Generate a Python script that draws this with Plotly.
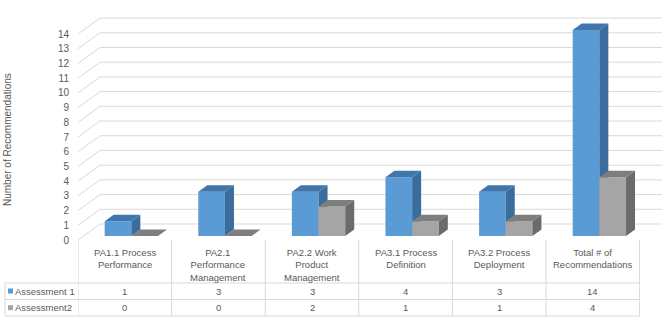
import plotly.graph_objects as go

# ---------------- data ----------------
categories = [
    "PA1.1 Process<br>Performance",
    "PA2.1<br>Performance<br>Management",
    "PA2.2 Work<br>Product<br>Management",
    "PA3.1 Process<br>Definition",
    "PA3.2 Process<br>Deployment",
    "Total # of<br>Recommendations",
]
series_names = ["Assessment 1", "Assessment2"]
assessment1 = [1, 3, 3, 4, 3, 14]
assessment2 = [0, 0, 2, 1, 1, 4]
y_ticks = list(range(0, 15))
y_title = "Number of Recommendations"

# ---------------- layout helpers ----------------
W, H = 665, 324
X0 = 78.0      # px of left edge of category area
COL = 93.6     # px per category
Y0 = 240.0     # px of value 0 (front)
K = 14.71      # px per unit

xmin = -0.5
xmax = -0.5 + (W - X0) / COL
ymax = Y0 / K
ymin = (Y0 - H) / K


def xd(px):
    return (px - X0) / COL - 0.5


def yd(py):
    return (Y0 - py) / K


def xp(px):
    return px / W


def yp(py):
    return 1 - py / H


TXT = "#595959"
GRID = "#d9d9d9"
FONT = "Liberation Sans"
TS = 9.5

fig = go.Figure()

# ---------------- 3D-looking bars ----------------
BASE = yd(236)
BW = 0.285
DX = 9 / COL
DY = 6.5 / K


def faces(vals, off):
    fx, fy, sx, sy, tx, ty = [], [], [], [], [], []
    for c, v in enumerate(vals):
        xl = c + off
        xr = xl + BW
        y0 = BASE
        y1 = BASE + v
        if v > 0:
            fx += [xl, xr, xr, xl, xl, None]
            fy += [y0, y0, y1, y1, y0, None]
            sx += [xr, xr + DX, xr + DX, xr, xr, None]
            sy += [y0, y0 + DY, y1 + DY, y1, y0, None]
        tx += [xl, xl + DX, xr + DX, xr, xl, None]
        ty += [y1, y1 + DY, y1 + DY, y1, y1, None]
    return (fx, fy), (sx, sy), (tx, ty)


series = [
    (assessment1, -0.215, ("#5B9BD5", "#3A6D9E", "#4176AD")),
    (assessment2, 0.07, ("#A5A5A5", "#6B6B6B", "#7E7E7E")),
]
for vals, off, cols in series:
    for (xx, yy), col in zip(faces(vals, off), cols):
        fig.add_trace(go.Scatter(
            x=xx, y=yy, mode="lines", fill="toself", fillcolor=col,
            line=dict(width=0, color=col), hoverinfo="skip", showlegend=False,
        ))

shapes = []
# ---------------- gridlines (walls) ----------------
GDX = 22 / COL
GDY = 16 / K
for v in y_ticks:
    shapes.append(dict(type="line", xref="x", yref="y", layer="below",
                       x0=xd(X0), y0=v, x1=xd(X0) + GDX, y1=v + GDY,
                       line=dict(color=GRID, width=1)))
    shapes.append(dict(type="line", xref="x", yref="y", layer="below",
                       x0=xd(X0) + GDX, y0=v + GDY, x1=xd(662), y1=v + GDY,
                       line=dict(color=GRID, width=1)))

# ---------------- data table ----------------
T_TOP, R1, R2, T_BOT = 240, 283, 299.5, 316
T_LEFT = 5
n = len(categories)
for c in range(n + 1):
    shapes.append(dict(type="line", xref="x", yref="paper",
                       x0=c - 0.5, x1=c - 0.5, y0=yp(T_TOP), y1=yp(T_BOT),
                       line=dict(color=GRID, width=1)))
shapes.append(dict(type="line", xref="paper", yref="paper",
                   x0=xp(T_LEFT), x1=xp(T_LEFT), y0=yp(R1), y1=yp(T_BOT),
                   line=dict(color=GRID, width=1)))
right_px = X0 + n * COL
for yy in (R1, R2, T_BOT):
    shapes.append(dict(type="line", xref="paper", yref="paper",
                       x0=xp(T_LEFT), x1=xp(right_px), y0=yp(yy), y1=yp(yy),
                       line=dict(color=GRID, width=1)))

annotations = []
for c, cat in enumerate(categories):
    annotations.append(dict(x=c, y=yp(244.5), xref="x", yref="paper",
                            text=cat, showarrow=False, yanchor="top",
                            xanchor="center", align="center",
                            font=dict(family=FONT, size=TS, color=TXT)))
row_centers = [291, 307.7]
key_colors = ["#5B9BD5", "#A5A5A5"]
for r, (name, vals) in enumerate(zip(series_names, [assessment1, assessment2])):
    yc = row_centers[r]
    for c, v in enumerate(vals):
        annotations.append(dict(x=c, y=yp(yc), xref="x", yref="paper",
                                text=str(v), showarrow=False,
                                xanchor="center", yanchor="middle",
                                font=dict(family=FONT, size=TS, color=TXT)))
    annotations.append(dict(x=xp(13), y=yp(yc), xref="paper", yref="paper",
                            text=name, showarrow=False,
                            xanchor="left", yanchor="middle",
                            font=dict(family=FONT, size=TS, color=TXT)))
    shapes.append(dict(type="rect", xref="paper", yref="paper",
                       x0=xp(8), x1=xp(13), y0=yp(yc + 2.5), y1=yp(yc - 2.5),
                       fillcolor=key_colors[r], line=dict(width=0)))

annotations.append(dict(x=xp(8), y=yp(140), xref="paper", yref="paper",
                        text=y_title, textangle=-90, showarrow=False,
                        xanchor="center", yanchor="middle",
                        font=dict(family=FONT, size=10, color=TXT)))

fig.update_layout(
    width=W, height=H,
    margin=dict(l=0, r=0, t=0, b=0),
    paper_bgcolor="white", plot_bgcolor="white",
    showlegend=False,
    xaxis=dict(domain=[X0 / W, 1], range=[xmin, xmax], visible=False,
               fixedrange=True),
    yaxis=dict(range=[ymin, ymax], tickvals=y_ticks,
               ticktext=[str(t) for t in y_ticks],
               showgrid=False, zeroline=False, showline=False,
               ticks="", ticklabelstandoff=8,
               tickfont=dict(family=FONT, size=10, color=TXT),
               fixedrange=True),
    shapes=shapes,
    annotations=annotations,
)

fig.write_html("out.html")
